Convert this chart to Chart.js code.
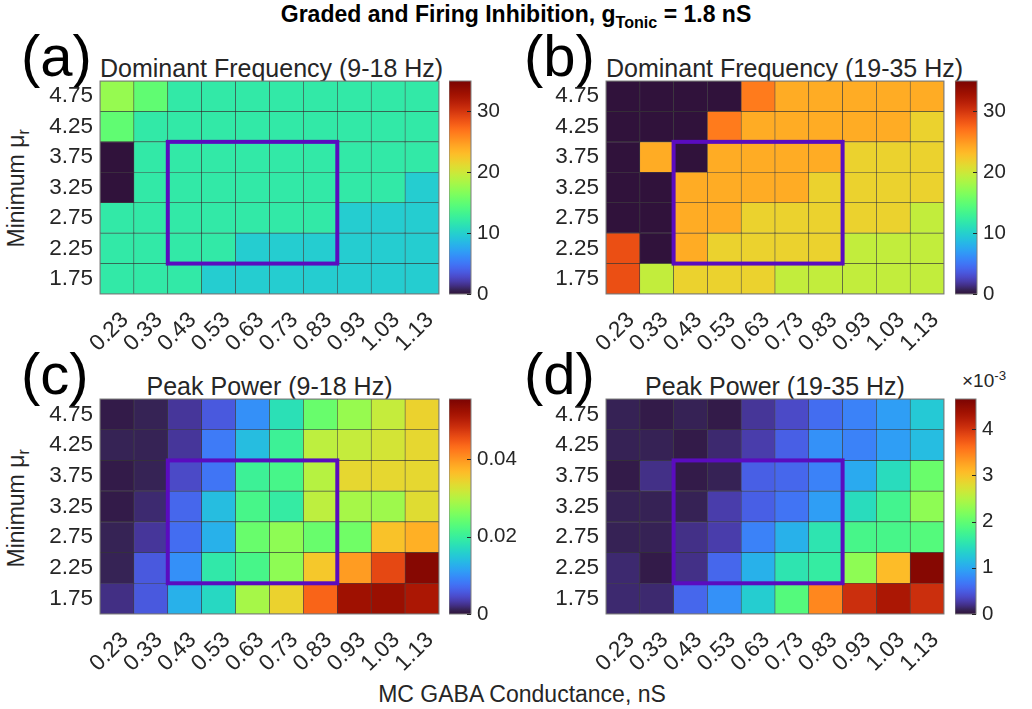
<!DOCTYPE html>
<html>
<head>
<meta charset="utf-8">
<script src="https://cdn.jsdelivr.net/npm/chart.js@4.4.1/dist/chart.umd.min.js"></script>
<style>
  body { margin: 0; background: #fff; font-family: 'Liberation Sans', Arial, sans-serif; color: #262626; }
  #page { position: relative; width: 1032px; height: 709px; overflow: hidden; background: #fff; }
  canvas { position: absolute; }
  .txt { position: absolute; white-space: nowrap; line-height: 1; }
  .ttl { font-size: 25px; text-align: center; }
  .lab { font-size: 58px; color: #000; }
  .sub { font-size: 70%; vertical-align: -0.35em; }
  .sup { font-size: 70%; vertical-align: 0.55em; }
</style>
</head>
<body>
<div id="page">
  <div class="txt" style="left:0;width:1032px;top:3px;text-align:center;font-weight:bold;font-size:23px;color:#000;">Graded and Firing Inhibition, g<span class="sub">Tonic</span> = 1.8 nS</div>

  <div class="txt lab" style="left:21px;top:27px;">(a)</div>
  <div class="txt lab" style="left:524px;top:27px;">(b)</div>
  <div class="txt lab" style="left:21px;top:345px;">(c)</div>
  <div class="txt lab" style="left:524px;top:345px;">(d)</div>

  <div class="txt ttl" style="left:100px;width:339px;top:56px;">Dominant Frequency (9-18 Hz)</div>
  <div class="txt ttl" style="left:606px;width:338px;top:56px;">Dominant Frequency (19-35 Hz)</div>
  <div class="txt ttl" style="left:100px;width:339px;top:374px;">Peak Power (9-18 Hz)</div>
  <div class="txt ttl" style="left:606px;width:338px;top:374px;">Peak Power (19-35 Hz)</div>

  <div class="txt" style="left:-132px;width:300px;top:175px;font-size:23px;text-align:center;transform:rotate(-90deg);">Minimum &mu;<span class="sub">r</span></div>
  <div class="txt" style="left:-132px;width:300px;top:495px;font-size:23px;text-align:center;transform:rotate(-90deg);">Minimum &mu;<span class="sub">r</span></div>

  <div class="txt" style="left:0;width:1044px;top:683px;font-size:23px;text-align:center;">MC GABA Conductance, nS</div>
  <div class="txt" style="left:962px;top:369px;font-size:19px;">&times;10<span class="sup">-3</span></div>

  <canvas id="heatA"></canvas>
  <canvas id="heatB"></canvas>
  <canvas id="heatC"></canvas>
  <canvas id="heatD"></canvas>
  <canvas id="barA"></canvas>
  <canvas id="barB"></canvas>
  <canvas id="barC"></canvas>
  <canvas id="barD"></canvas>
</div>

<script>
// Axis categories
const gabaLabels = ['0.23', '0.33', '0.43', '0.53', '0.63', '0.73', '0.83', '0.93', '1.03', '1.13'];
const muLabels = ['4.75', '4.25', '3.75', '3.25', '2.75', '2.25', '1.75']; // top row first

// Dominant frequency 9-18 Hz (Hz), rows top to bottom
const domFreqLow = [
    [17.5, 15, 12, 12, 12, 12, 12, 12, 12, 12],
    [15, 12, 12, 12, 12, 12, 12, 12, 12, 12],
    [0, 12, 12, 12, 12, 12, 12, 12, 12, 12],
    [0, 12, 12, 12, 12, 12, 12, 12, 12, 9.8],
    [12, 12, 12, 12, 12, 12, 12, 9.8, 9.8, 9.8],
    [12, 12, 12, 12, 9.8, 9.8, 9.8, 9.8, 9.8, 9.8],
    [12, 12, 12, 9.8, 9.8, 9.8, 9.8, 9.8, 9.8, 9.8]
];

// Dominant frequency 19-35 Hz (Hz)
const domFreqHigh = [
    [0, 0, 0, 0, 26.5, 24, 24, 24, 24, 24],
    [0, 0, 0, 26.5, 24, 24, 24, 24, 24, 21.7],
    [0, 24, 0, 24, 24, 24, 24, 21.7, 21.7, 21.7],
    [0, 0, 24, 24, 24, 24, 21.7, 21.7, 21.7, 21.7],
    [0, 0, 24, 24, 21.7, 21.7, 21.7, 21.7, 21.7, 19.5],
    [28.7, 0, 24, 21.7, 21.7, 21.7, 21.7, 19.5, 19.5, 19.5],
    [28.7, 19.5, 21.7, 21.7, 21.7, 19.5, 19.5, 19.5, 19.5, 19.5]
];

// Peak power 9-18 Hz
const peakPowLow = [
    [0.0006, 0.0011, 0.0028, 0.0056, 0.0100, 0.0178, 0.0244, 0.0278, 0.0311, 0.0344],
    [0.0011, 0.0011, 0.0028, 0.0083, 0.0139, 0.0205, 0.0305, 0.0311, 0.0322, 0.0339],
    [0.0006, 0.0011, 0.0044, 0.0078, 0.0205, 0.0216, 0.0300, 0.0339, 0.0339, 0.0339],
    [0.0006, 0.0017, 0.0067, 0.0139, 0.0216, 0.0194, 0.0305, 0.0289, 0.0283, 0.0333],
    [0.0011, 0.0028, 0.0072, 0.0128, 0.0244, 0.0272, 0.0244, 0.0250, 0.0361, 0.0377],
    [0.0011, 0.0056, 0.0100, 0.0189, 0.0216, 0.0272, 0.0355, 0.0394, 0.0461, 0.0544],
    [0.0022, 0.0056, 0.0128, 0.0167, 0.0289, 0.0344, 0.0438, 0.0522, 0.0527, 0.0511]
];

// Peak power 19-35 Hz (x 10^-3)
const peakPowHigh = [
    [0.09, 0.05, 0.09, 0.05, 0.23, 0.37, 0.60, 0.74, 0.93, 1.26],
    [0.09, 0.09, 0.05, 0.14, 0.28, 0.51, 0.84, 0.74, 0.93, 1.16],
    [0.05, 0.19, 0.05, 0.09, 0.51, 0.56, 0.74, 1.02, 1.44, 2.05],
    [0.09, 0.09, 0.09, 0.28, 0.51, 0.65, 0.93, 1.44, 1.77, 2.28],
    [0.09, 0.09, 0.19, 0.28, 0.74, 1.07, 1.53, 1.81, 1.81, 1.91],
    [0.14, 0.05, 0.19, 0.56, 1.07, 1.53, 1.63, 2.28, 3.07, 4.56],
    [0.14, 0.14, 0.56, 0.84, 1.30, 1.91, 3.44, 4.05, 4.28, 4.05]
];

// Colour limits and colorbar ticks
const freqMax = 35;
const powLowMax = 0.0555;
const powHighMax = 4.65;
const freqTicks = [0, 10, 20, 30];
const powLowTicks = [0, 0.02, 0.04];
const powHighTicks = [0, 1, 2, 3, 4];

// Highlighted region (columns and rows it covers)
const boxCols = ['0.43', '0.83'];
const boxRows = ['3.75', '2.25'];

const FONT = "'Liberation Sans', Arial, sans-serif";
const TEXT = '#262626';

// turbo colormap (polynomial approximation, ends pinned to the real map)
function turboPoly(t) {
    const r = 0.13572138 + t * (4.61539260 + t * (-42.66032258 + t * (132.13108234 + t * (-152.94239396 + t * 59.28637943))));
    const g = 0.09140261 + t * (2.19418839 + t * (4.84296658 + t * (-14.18503333 + t * (4.27729857 + t * 2.82956604))));
    const b = 0.10667330 + t * (12.64194608 + t * (-60.58204836 + t * (110.36276771 + t * (-89.90310912 + t * 27.34824973))));
    return [r, g, b].map(v => 255 * Math.min(1, Math.max(0, v)));
}
function turbo(t) {
    t = Math.min(1, Math.max(0, t));
    let c;
    if (t < 0.02) {
        const a = [48, 18, 59], b = turboPoly(0.02), k = t / 0.02;
        c = a.map((v, i) => v + (b[i] - v) * k);
    } else if (t > 0.94) {
        const a = turboPoly(0.94), b = [122, 4, 3], k = (t - 0.94) / 0.06;
        c = a.map((v, i) => v + (b[i] - v) * k);
    } else {
        c = turboPoly(t);
    }
    return 'rgb(' + c.map(Math.round).join(',') + ')';
}

function place(canvas, left, top, w, h) {
    canvas.width = w;
    canvas.height = h;
    canvas.style.left = left + 'px';
    canvas.style.top = top + 'px';
    canvas.style.width = w + 'px';
    canvas.style.height = h + 'px';
}

function noPad(s) {
    s.paddingTop = 0; s.paddingBottom = 0; s.paddingLeft = 0; s.paddingRight = 0;
}

// frame, highlighted rectangle, colorbar tick marks
const framePlugin = {
    id: 'frame',
    afterDatasetsDraw(chart, args, opts) {
        const { ctx, chartArea: a, scales } = chart;
        ctx.save();
        ctx.strokeStyle = '#7f7f7f';
        ctx.lineWidth = 1;
        ctx.strokeRect(a.left, a.top, a.right - a.left, a.bottom - a.top);
        if (opts.cbTicks) {
            ctx.strokeStyle = '#262626';
            scales.y.ticks.forEach(t => {
                const py = Math.round(scales.y.getPixelForValue(t.value)) + 0.5;
                ctx.beginPath();
                ctx.moveTo(a.right - 4, py);
                ctx.lineTo(a.right, py);
                ctx.stroke();
            });
        }
        if (opts.box) {
            const x = scales.x, y = scales.y;
            const cw = x.getPixelForValue(1) - x.getPixelForValue(0);
            const rowsBottomUp = muLabels.slice().reverse();
            const i0 = gabaLabels.indexOf(boxCols[0]), i1 = gabaLabels.indexOf(boxCols[1]);
            const rTop = rowsBottomUp.indexOf(boxRows[0]) + 1, rBot = rowsBottomUp.indexOf(boxRows[1]);
            const left = x.getPixelForValue(i0) - cw / 2, right = x.getPixelForValue(i1) + cw / 2;
            const top = y.getPixelForValue(rTop), bottom = y.getPixelForValue(rBot);
            ctx.strokeStyle = '#5a0cbf';
            ctx.lineWidth = 4;
            ctx.strokeRect(left, top, right - left, bottom - top);
        }
        ctx.restore();
    }
};

function buildHeatmap(canvasId, area, values, vmax) {
    const canvas = document.getElementById(canvasId);
    const yw = 100, xh = 90, padTop = 10, padRight = 4;
    place(canvas, area.x0 - yw, area.y0 - padTop, area.x1 - area.x0 + yw + padRight, area.y1 - area.y0 + padTop + xh);

    const rowsBottomUp = values.slice().reverse();
    const datasets = rowsBottomUp.map(row => ({
        data: row.map(() => 1),
        backgroundColor: row.map(v => turbo(v / vmax)),
        borderColor: 'rgba(35,35,35,0.8)',
        borderWidth: 0.6,
        borderSkipped: false,
        barPercentage: 1,
        categoryPercentage: 1
    }));

    return new Chart(canvas, {
        type: 'bar',
        data: { labels: gabaLabels, datasets: datasets },
        options: {
            responsive: false,
            animation: false,
            devicePixelRatio: 1,
            layout: { padding: { top: padTop, right: padRight, left: 0, bottom: 0 } },
            scales: {
                x: {
                    stacked: true,
                    grid: { display: false, drawTicks: false },
                    border: { display: false },
                    ticks: {
                        autoSkip: false, maxRotation: 45, minRotation: 45, padding: 13, labelOffset: 8,
                        color: TEXT, font: { family: FONT, size: 22.5 }
                    },
                    afterFit(s) { s.height = xh; noPad(s); }
                },
                y: {
                    stacked: true, min: 0, max: muLabels.length,
                    grid: { display: false, drawTicks: false },
                    border: { display: false },
                    afterBuildTicks(s) { s.ticks = muLabels.map((_, i) => ({ value: i + 0.5 })); },
                    ticks: {
                        padding: 7, color: TEXT, font: { family: FONT, size: 22.5 },
                        callback: v => muLabels[muLabels.length - 1 - Math.floor(v)]
                    },
                    afterFit(s) { s.width = yw; noPad(s); }
                }
            },
            plugins: {
                legend: { display: false },
                tooltip: { enabled: false },
                frame: { box: true }
            }
        },
        plugins: [framePlugin]
    });
}

function buildColorbar(canvasId, area, vmax, tickValues, fmt) {
    const canvas = document.getElementById(canvasId);
    const w = 80, padTop = 12, padBottom = 14;
    place(canvas, area.x0, area.y0 - padTop, w, area.y1 - area.y0 + padTop + padBottom);
    const barW = area.x1 - area.x0;

    return new Chart(canvas, {
        type: 'bar',
        data: {
            labels: ['c'],
            datasets: [{
                data: [[0, vmax]],
                backgroundColor(c) {
                    const a = c.chart.chartArea;
                    if (!a) return '#000';
                    const g = c.chart.ctx.createLinearGradient(0, a.bottom, 0, a.top);
                    for (let i = 0; i <= 50; i++) g.addColorStop(i / 50, turbo(i / 50));
                    return g;
                },
                borderWidth: 0,
                barPercentage: 1,
                categoryPercentage: 1
            }]
        },
        options: {
            responsive: false,
            animation: false,
            devicePixelRatio: 1,
            layout: { padding: { top: padTop, bottom: padBottom, left: 0, right: 0 } },
            scales: {
                x: { display: false },
                y: {
                    position: 'right', min: 0, max: vmax,
                    grid: { display: false, drawTicks: false },
                    border: { display: false },
                    afterBuildTicks(s) { s.ticks = tickValues.map(v => ({ value: v })); },
                    ticks: {
                        padding: 6, color: TEXT, font: { family: FONT, size: 20.5 },
                        callback: fmt
                    },
                    afterFit(s) { s.width = w - barW; noPad(s); }
                }
            },
            plugins: {
                legend: { display: false },
                tooltip: { enabled: false },
                frame: { box: false, cbTicks: true }
            }
        },
        plugins: [framePlugin]
    });
}

const areaA = { x0: 100, x1: 439, y0: 81, y1: 294 };
const areaB = { x0: 606, x1: 944, y0: 81, y1: 294 };
const areaC = { x0: 100, x1: 439, y0: 399, y1: 614 };
const areaD = { x0: 606, x1: 944, y0: 399, y1: 614 };

buildHeatmap('heatA', areaA, domFreqLow, freqMax);
buildHeatmap('heatB', areaB, domFreqHigh, freqMax);
buildHeatmap('heatC', areaC, peakPowLow, powLowMax);
buildHeatmap('heatD', areaD, peakPowHigh, powHighMax);

buildColorbar('barA', { x0: 449, x1: 471, y0: 81, y1: 294 }, freqMax, freqTicks, v => String(v));
buildColorbar('barB', { x0: 955, x1: 977, y0: 81, y1: 294 }, freqMax, freqTicks, v => String(v));
buildColorbar('barC', { x0: 449, x1: 471, y0: 399, y1: 614 }, powLowMax, powLowTicks, v => v === 0 ? '0' : v.toFixed(2));
buildColorbar('barD', { x0: 955, x1: 976, y0: 399, y1: 614 }, powHighMax, powHighTicks, v => String(v));
</script>
</body>
</html>
